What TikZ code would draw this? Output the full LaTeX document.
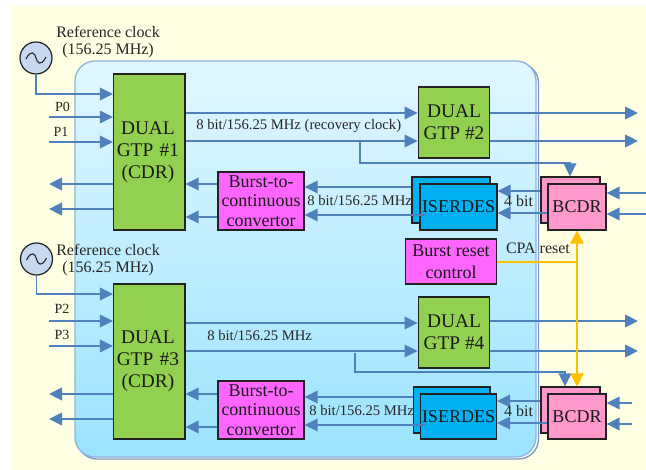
\documentclass[tikz,border=0pt]{standalone}
\usepackage{fontspec}
\setmainfont{Liberation Serif}
\usetikzlibrary{arrows.meta,calc}
\definecolor{cream}{HTML}{FFFFE3}
\definecolor{wire}{HTML}{4F81BD}
\definecolor{rim}{HTML}{8DB3E2}
\definecolor{rimdark}{HTML}{7A98C8}
\definecolor{panelTop}{HTML}{E2F7FF}
\definecolor{panelBot}{HTML}{9BE3FF}
\definecolor{gtpgreen}{HTML}{92D050}
\definecolor{magentabox}{HTML}{FF66FF}
\definecolor{bluebox}{HTML}{00B0F0}
\definecolor{pinkbox}{HTML}{FF99CC}
\definecolor{oscfill}{HTML}{C6D9F1}
\definecolor{edgeblack}{HTML}{222222}
\definecolor{amber}{HTML}{FFC000}
\tikzset{
  wh/.style 2 args={minimum width=#1*0.75pt,minimum height=#2*0.75pt},
  box/.style={draw=edgeblack,line width=0.9pt,inner sep=0pt,align=center,anchor=center,
    font=\fontsize{13.5}{16.5}\selectfont,text=black!90},
  gtp/.style={box,fill=gtpgreen,font=\fontsize{14.5}{16.5}\selectfont},
  conv/.style={box,fill=magentabox,font=\fontsize{13.5}{14.5}\selectfont},
  rstbox/.style={box,fill=magentabox,font=\fontsize{13.5}{16.5}\selectfont},
  ser/.style={box,fill=bluebox},
  cdr/.style={box,fill=pinkbox},
  lbl/.style={inner sep=0pt,font=\fontsize{11}{15}\selectfont,text=black!85,align=center},
  biglbl/.style={inner sep=0pt,font=\fontsize{12}{15}\selectfont,text=black!85,align=center},
  plbl/.style={inner sep=0pt,font=\fontsize{10.5}{13}\selectfont,text=black!85},
  sig/.style={draw=wire,line width=1.1pt,-{Triangle[length=9.75pt,width=9.5pt,fill=wire]}},
  rst/.style={draw=amber,line width=1.1pt},
  rstarrow/.style={rst,-{Triangle[length=9.75pt,width=10pt,fill=amber]}},
  osc/.style={circle,draw=edgeblack,line width=0.9pt,fill=oscfill,minimum size=24pt,inner sep=0pt},
}
\newcommand{\sine}[1]{\draw[edgeblack,line width=0.8pt] ($(#1)+(-10,1)$) .. controls ($(#1)+(-5,-9)$) and ($(#1)+(-1,-5)$) .. ($(#1)+(0,0)$) .. controls ($(#1)+(1,5)$) and ($(#1)+(5,9)$) .. ($(#1)+(10,-1)$);}
\begin{document}
\begin{tikzpicture}[x=0.75pt,y=-0.75pt]
\useasboundingbox (0,0) rectangle (646,470);
\fill[white] (0,0) rectangle (646,470);
\fill[cream] (12,6) rectangle (646,470);
% panel
\draw[rimdark,line width=1pt,rounded corners=15pt] (77,63) rectangle (538.5,459);
\shade[top color=panelTop,bottom color=panelBot,draw=rim,line width=1pt,rounded corners=15pt] (75,61) rectangle (536,457);
% oscillators
\node[osc] (o1) at (36,58) {};
\node[osc] (o2) at (36.5,259) {};
\sine{o1}
\sine{o2}
% blocks
\node[gtp,wh={71.5}{156},text width=53.6pt,xshift=0pt] (g1) at (149.25,152) {\hspace*{-2pt}\makebox[53.6pt]{DUAL}\\\hspace*{-2pt}\makebox[53.6pt]{GTP \#1}\\\hspace*{-2pt}\makebox[53.6pt]{(CDR)}};
\node[gtp,wh={71.5}{155},text width=53.6pt] (g3) at (149.25,361.5) {\hspace*{-2pt}\makebox[53.6pt]{\raisebox{-1pt}{DUAL}}\\\hspace*{-2pt}\makebox[53.6pt]{\raisebox{-1pt}{GTP \#3}}\\\hspace*{-2pt}\makebox[53.6pt]{\raisebox{-1pt}{(CDR)}}};
\node[gtp,wh={71.5}{71}] (g2) at (454,122.5) {DUAL\\GTP \#2};
\node[gtp,wh={71.5}{71}] (g4) at (454,332.5) {DUAL\\GTP \#4};
\node[conv,wh={86}{58}] (b1) at (261,201) {Burst-to-\\continuous\\convertor};
\node[conv,wh={86}{58}] (b2) at (261,410) {Burst-to-\\continuous\\convertor};
\node[rstbox,wh={91}{45}] (rc) at (451,261.5) {Burst reset\\control};
\node[ser,wh={78}{46}] (s1b) at (451,200) {};
\node[ser,wh={76.5}{46}] (s2b) at (451.75,410) {};
\node[cdr,wh={59}{46}] (c1b) at (570.5,200) {};
\node[cdr,wh={59}{46}] (c2b) at (570.5,410) {};
\node[ser,wh={77}{46}] (s1) at (458.5,207) {\raisebox{-1.5pt}{ISERDES}};
\node[ser,wh={76}{45}] (s2) at (458.5,416.5) {\raisebox{-1.5pt}{ISERDES}};
\node[cdr,wh={58}{46}] (c1) at (577,207) {\raisebox{-1pt}{BCDR}};
\node[cdr,wh={58}{45}] (c2) at (577,416.5) {\raisebox{-1pt}{BCDR}};
% free ends
\coordinate (p0) at (49,117);
\coordinate (p1) at (49,142);
\coordinate (p2) at (49,321);
\coordinate (p3) at (49,346);
\coordinate (q1) at (49,184);
\coordinate (q2) at (49,209);
\coordinate (q3) at (49,394);
\coordinate (q4) at (49,419);
\coordinate (r1) at (638,113);
\coordinate (r2) at (638,141);
\coordinate (r3) at (638,321);
\coordinate (r4) at (638,351);
\coordinate (i1) at (646,193);
\coordinate (i2) at (646,214);
\coordinate (i3) at (632,403);
\coordinate (i4) at (632,424);
\coordinate (t1) at (426,215);
\coordinate (t2) at (426,425);
\coordinate (j1) at (360,141);
\coordinate (j2) at (355,353);
% clocks
\draw[sig] (o1.south) |- (g1.west |- 0,94);
\draw[sig] (o2.south) |- (g3.west |- 0,294);
% inputs / outputs of GTP 1,3
\draw[sig] (p0) -- (g1.west |- p0);
\draw[sig] (p1) -- (g1.west |- p1);
\draw[sig] (p2) -- (g3.west |- p2);
\draw[sig] (p3) -- (g3.west |- p3);
\draw[sig] (g1.west |- q1) -- (q1);
\draw[sig] (g1.west |- q2) -- (q2);
\draw[sig] (g3.west |- q3) -- (q3);
\draw[sig] (g3.west |- q4) -- (q4);
% GTP to GTP
\draw[sig] (g1.east |- 0,113) -- (g2.west |- 0,113);
\draw[sig] (g1.east |- 0,141) -- (g2.west |- 0,141);
\draw[sig] (g3.east |- 0,323) -- (g4.west |- 0,323);
\draw[sig] (g3.east |- 0,351) -- (g4.west |- 0,351);
\draw[sig] (g2.east |- r1) -- (r1);
\draw[sig] (g2.east |- r2) -- (r2);
\draw[sig] (g4.east |- r3) -- (r3);
\draw[sig] (g4.east |- r4) -- (r4);
% recovery clock branches
\draw[sig] (j1) |- (570,163) -- (c1b.north -| 570,0);
\draw[sig] (j2) |- (565,372) -- (c2b.north -| 565,0);
% ISERDES to converters
\draw[sig] (s1b.west |- 0,187) -- (b1.east |- 0,187);
\draw[sig] (t1) -- (b1.east |- t1);
\draw[sig] (s2b.west |- 0,397) -- (b2.east |- 0,397);
\draw[sig] (t2) -- (b2.east |- t2);
% converters to GTP
\draw[sig] (b1.west |- 0,184) -- (g1.east |- 0,184);
\draw[sig] (b1.west |- 0,217) -- (g1.east |- 0,217);
\draw[sig] (b2.west |- 0,394) -- (g3.east |- 0,394);
\draw[sig] (b2.west |- 0,427) -- (g3.east |- 0,427);
% BCDR to ISERDES
\draw[sig] (c1b.west |- 0,191) -- (s1.east |- 0,191);
\draw[sig] (c1.west |- 0,213) -- (s1.east |- 0,213);
\draw[sig] (c2b.west |- 0,401) -- (s2.east |- 0,401);
\draw[sig] (c2.west |- 0,423) -- (s2.east |- 0,423);
% BCDR inputs
\draw[sig] (i1) -- (c1.east |- i1);
\draw[sig] (i2) -- (c1.east |- i2);
\draw[sig] (i3) -- (c2.east |- i3);
\draw[sig] (i4) -- (c2.east |- i4);
% reset
\coordinate (rj) at (577,262);
\draw[rst] (rc.east |- rj) -- (rj);
\draw[rstarrow] (rj) -- (c1.south);
\draw[rstarrow] (rj) -- (rj |- c2b.north);
% labels
\node[biglbl,anchor=west] at (56,32) {Reference clock};
\node[biglbl,anchor=west] at (62,51) {(156.25 MHz)};
\node[biglbl,anchor=west] at (56,250) {Reference clock};
\node[biglbl,anchor=west] at (62,269) {(156.25 MHz)};
\node[plbl] at (62.5,107) {P0};
\node[plbl] at (61,132) {P1};
\node[plbl] at (62,309) {P2};
\node[plbl] at (62,335) {P3};
\node[lbl,anchor=west] at (196,126) {8 bit/156.25 MHz (recovery clock)};
\node[lbl,anchor=west] at (207,336) {8 bit/156.25 MHz};
\node[lbl,anchor=west] at (307,201) {8 bit/156.25 MHz};
\node[lbl,anchor=west] at (309,411) {8 bit/156.25 MHz};
\node[biglbl] at (518.5,201) {4 bit};
\node[biglbl] at (518.5,411) {4 bit};
\node[biglbl] at (538,248) {CPA reset};
\end{tikzpicture}
\end{document}
